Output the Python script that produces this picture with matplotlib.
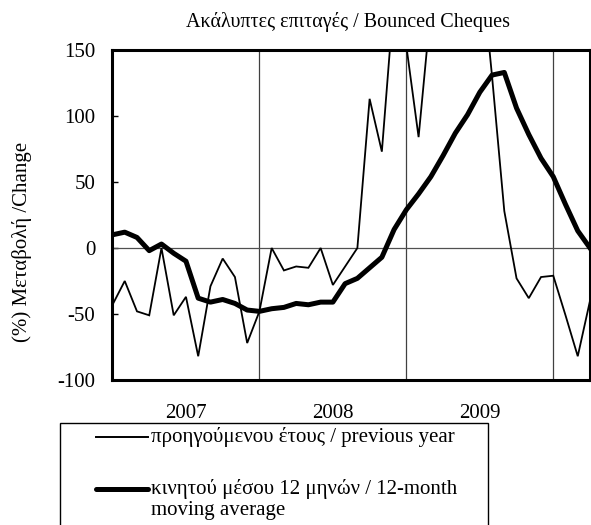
import matplotlib
matplotlib.use("Agg")
import matplotlib.pyplot as plt
from matplotlib.lines import Line2D
from matplotlib.patches import Rectangle
import numpy as np

plt.rcParams['font.family'] = ['Liberation Serif', 'DejaVu Serif']

# Monthly observations (index 0 .. 39)
yoy_change = [-43, -25, -48, -51, 0, -51, -37, -82, -29, -8, -22, -72,
              -48, 0, -17, -14, -15, 0, -28, -14, 0, 113, 73, 191,
              153, 84, 182, 230, 260, 240, 225, 130, 28, -23, -38, -22,
              -21, -51, -82, -40]
moving_avg = [10, 12, 8, -2, 3, -4, -10, -38, -41, -39, -42, -47,
              -48, -46, -45, -42, -43, -41, -41, -27, -23, -15, -7, 14,
              29, 41, 54, 70, 87, 101, 118, 131, 133, 106, 86, 68,
              54, 33, 13, 0]
year_labels = ['2007', '2008', '2009']
year_label_pos = [6, 18, 30]
year_bounds = [12, 24, 36]
y_ticks = [-100, -50, 0, 50, 100, 150]

label_prev = 'προηγούμενου έτους / previous year'
label_ma = 'κινητού μέσου 12 μηνών / 12-month\nmoving average'

W, H = 591, 525
fig = plt.figure(figsize=(W / 100, H / 100), dpi=100)
ax = fig.add_axes([112.5 / W, 1 - 380 / H, (590 - 112.5) / W, 330 / H])

x = np.arange(len(yoy_change))
ax.plot(x, yoy_change, color='black', lw=1.3, zorder=3, solid_joinstyle='miter')
ax.plot(x, moving_avg, color='black', lw=3.6, zorder=4, solid_joinstyle='round')

ax.set_xlim(0, len(x) - 1)
ax.set_ylim(-100, 150)
ax.set_yticks(y_ticks)
ax.set_yticklabels([str(v) for v in y_ticks], fontsize=15)
ax.tick_params(axis='y', direction='in', length=4, width=1, pad=12.5)

ax.set_xticks(year_label_pos)
ax.set_xticklabels(year_labels, fontsize=15)
ax.tick_params(axis='x', length=0, pad=17.5)
ax.set_xticks(year_bounds, minor=True)
ax.tick_params(axis='x', which='minor', length=0)
ax.grid(True, axis='x', which='minor', color='#404040', lw=0.9)
ax.axhline(0, color='#505050', lw=0.9, zorder=2)

for s in ax.spines.values():
    s.set_linewidth(2.2)
    s.set_color('black')

fig.text(348.5 / W, 1 - 22 / H, 'Ακάλυπτες επιταγές / Bounced Cheques',
         ha='center', va='center', fontsize=14.5)
fig.text(22 / W, 1 - 242 / H, '(%) Μεταβολή /Change', rotation=90,
         ha='center', va='center', fontsize=15)

# Legend box (extends past the bottom edge as in the reference)
box = Rectangle((60 / W, 1 - 560 / H), (488 - 60) / W, (560 - 423) / H,
                transform=fig.transFigure, fill=False, edgecolor='black', lw=1.0)
fig.add_artist(box)
fig.add_artist(Line2D([96 / W, 148 / W], [1 - 437 / H, 1 - 437 / H],
                      transform=fig.transFigure, color='black', lw=1.4))
fig.add_artist(Line2D([96 / W, 148 / W], [1 - 489 / H, 1 - 489 / H],
                      transform=fig.transFigure, color='black', lw=3.6,
                      solid_capstyle='round'))
fig.text(151 / W, 1 - 437 / H, label_prev, ha='left', va='center', fontsize=15)
fig.text(151 / W, 1 - 489 / H, label_ma.split('\n')[0], ha='left', va='center', fontsize=15)
fig.text(151 / W, 1 - 510 / H, label_ma.split('\n')[1], ha='left', va='center', fontsize=15)

fig.savefig('out.png', dpi=100)
